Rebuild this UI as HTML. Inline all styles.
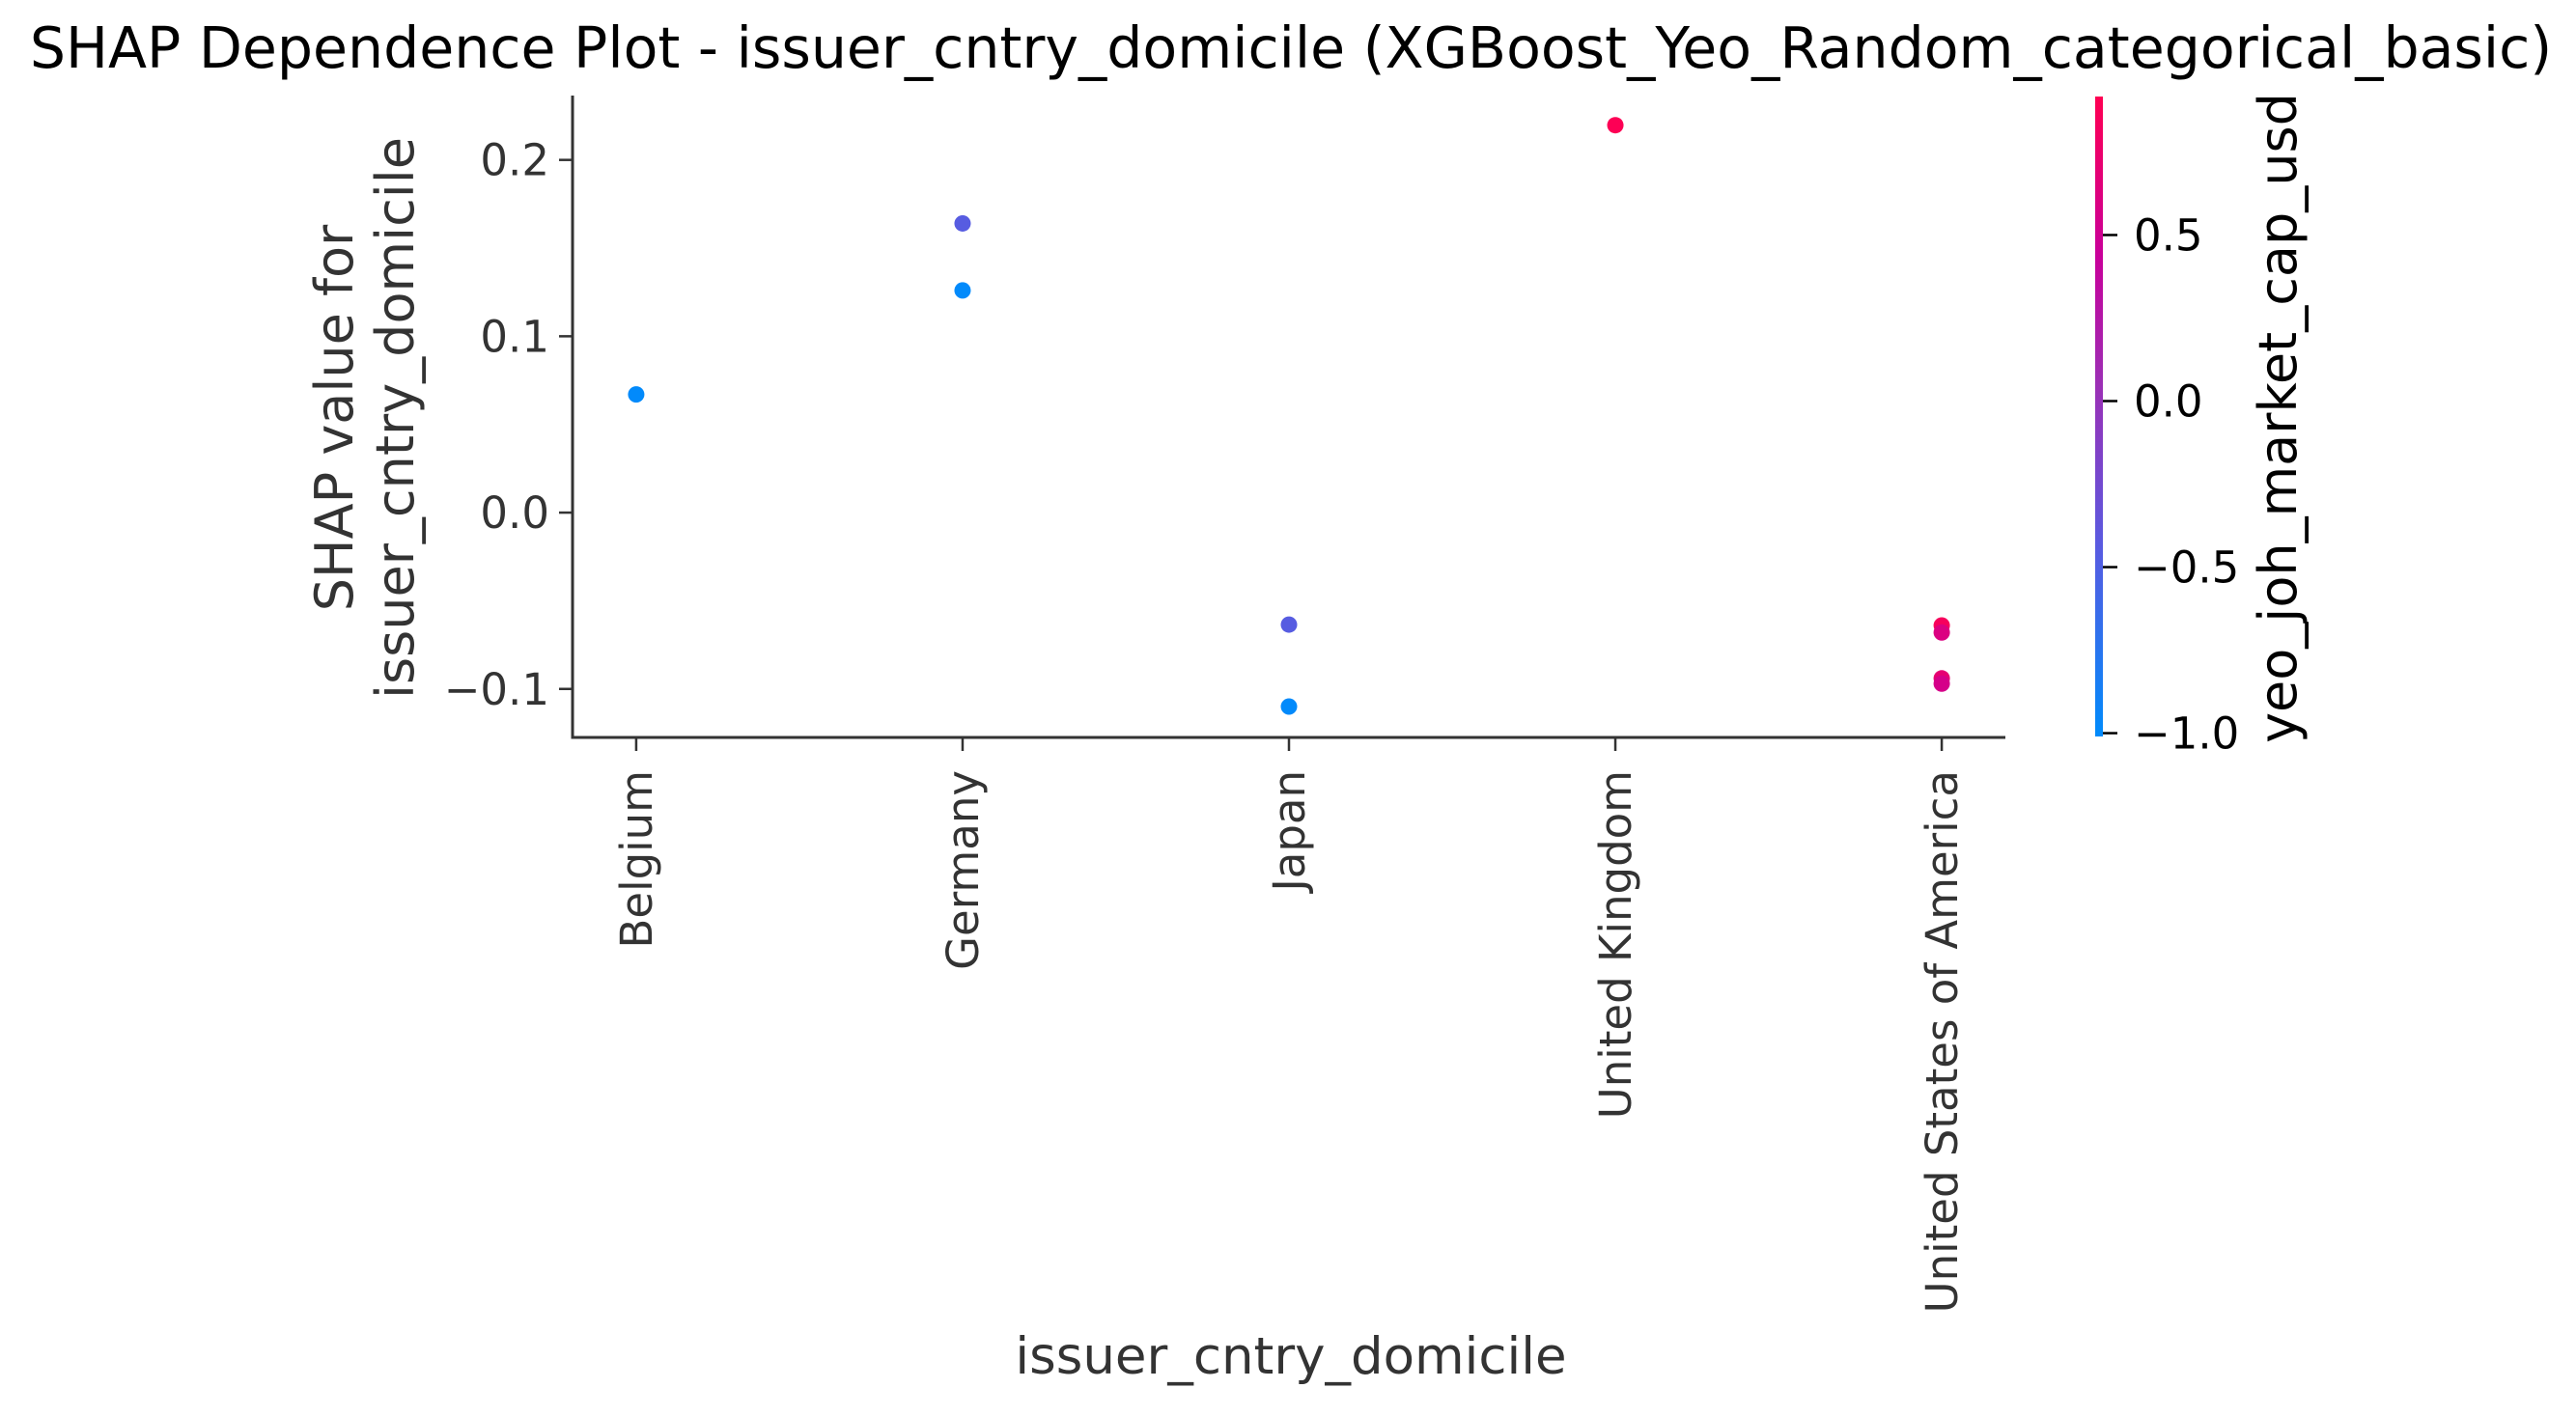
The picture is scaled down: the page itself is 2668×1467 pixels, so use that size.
<!DOCTYPE html>
<html><head><meta charset="utf-8"><style>
html,body{margin:0;padding:0;background:#fff;}
svg{display:block;font-family:"DejaVu Sans","Liberation Sans",sans-serif;}
</style></head><body>
<svg id="chart" width="2668" height="1467" viewBox="0 0 2668 1467">
<defs>
<linearGradient id="cmap" x1="0" y1="1" x2="0" y2="0">
<stop offset="0" stop-color="#008bfb"/>
<stop offset="0.3" stop-color="#5a5ae0"/>
<stop offset="0.55" stop-color="#9c2fb5"/>
<stop offset="0.75" stop-color="#c8009a"/>
<stop offset="1" stop-color="#ff0052"/>
</linearGradient>
</defs>
<text x="1337" y="70" font-size="58.5" text-anchor="middle" fill="#000">SHAP Dependence Plot - issuer_cntry_domicile (XGBoost_Yeo_Random_categorical_basic)</text>
<g id="axes"></g>
<g id="points"></g>
<g fill="#333" font-size="54">
<text transform="translate(365,433) rotate(-90)" text-anchor="middle">SHAP value for</text>
<text transform="translate(428,433) rotate(-90)" text-anchor="middle">issuer_cntry_domicile</text>
</g>
<text x="1337" y="1423" font-size="53" text-anchor="middle" fill="#333">issuer_cntry_domicile</text>
<rect x="2170" y="100" width="8" height="663" fill="url(#cmap)"/>
<g id="cbticks"></g>
<text transform="translate(2378,433) rotate(-90)" font-size="54" text-anchor="middle" fill="#000">yeo_joh_market_cap_usd</text>
</svg>
<script>
const categories = ["Belgium","Germany","Japan","United Kingdom","United States of America"];
const pointCat = [0,1,1,2,2,3,4,4,4,4];
const shapValues = [0.067,0.164,0.126,-0.0635,-0.110,0.2197,-0.064,-0.068,-0.094,-0.097];
const colorValues = [-1.0,-0.45,-1.0,-0.45,-1.0,0.9,0.85,0.6,0.7,0.55];
const yTicks = [-0.1,0.0,0.1,0.2];
const yTickLabels = ["\u22120.1","0.0","0.1","0.2"];
const cbTicks = [-1.0,-0.5,0.0,0.5];
const cbTickLabels = ["\u22121.0","\u22120.5","0.0","0.5"];

const NS = "http://www.w3.org/2000/svg";
const X0 = 593, X1 = 2077, Y0 = 99, Y1 = 764;
const xMin = -0.195, xMax = 4.195, yMin = -0.1275, yMax = 0.2365;
const xs = c => X0 + (c - xMin) / (xMax - xMin) * (X1 - X0);
const ys = v => Y1 - (v - yMin) / (yMax - yMin) * (Y1 - Y0);
const cbMin = -1.01, cbMax = 0.917, CB0 = 100, CB1 = 763;
const cbs = v => CB1 - (v - cbMin) / (cbMax - cbMin) * (CB1 - CB0);
function mk(tag, attrs, parent){const e=document.createElementNS(NS,tag);for(const k in attrs)e.setAttribute(k,attrs[k]);parent.appendChild(e);return e;}
const stops=[[0,[0,139,251]],[0.3,[90,90,224]],[0.55,[156,47,181]],[0.75,[200,0,154]],[1,[255,0,82]]];
function cmap(v){let t=(v-cbMin)/(cbMax-cbMin);t=Math.max(0,Math.min(1,t));
 for(let i=1;i<stops.length;i++){if(t<=stops[i][0]){const a=stops[i-1],b=stops[i];const f=(t-a[0])/(b[0]-a[0]);
 return "rgb("+a[1].map((c,j)=>Math.round(c+(b[1][j]-c)*f)).join(",")+")";}}return "rgb(255,0,82)";}

const ax = document.getElementById("axes");
const ls = mk("line",{x1:X0,y1:Y0,x2:X0,y2:Y1+1.5,stroke:"#333","stroke-width":3},ax);


const bs = mk("line",{x1:X0-1.5,y1:Y1,x2:X1,y2:Y1,stroke:"#333","stroke-width":3},ax);


yTicks.forEach((v,i)=>{
 const y=ys(v);
 const t=mk("line",{x1:X0-14,y1:y,x2:X0,y2:y,stroke:"#333","stroke-width":2.5},ax);
 
 
 const l=mk("text",{x:X0-24,y:y+16,"font-size":45,"text-anchor":"end",fill:"#333"},ax);
 l.textContent=yTickLabels[i];
 
 
});
categories.forEach((c,i)=>{
 const x=xs(i);
 const t=mk("line",{x1:x,y1:Y1,x2:x,y2:Y1+14,stroke:"#333","stroke-width":2.5},ax);
 
 
 const l=mk("text",{transform:"translate("+(x+16)+",798) rotate(-90)","font-size":45,"text-anchor":"end",fill:"#333"},ax);
 l.textContent=c;
 
 
});
const pg=document.getElementById("points");
shapValues.forEach((v,i)=>{
 const e=mk("ellipse",{cx:xs(pointCat[i]),cy:ys(v),rx:8.5,ry:8.5,fill:cmap(colorValues[i])},pg);
 
 
});
const cg=document.getElementById("cbticks");
cbTicks.forEach((v,i)=>{
 const y=cbs(v);
 const t=mk("line",{x1:2178,y1:y,x2:2193,y2:y,stroke:"#000","stroke-width":2.5},cg);
 
 
 const l=mk("text",{x:2210,y:y+16,"font-size":45,fill:"#000"},cg);
 l.textContent=cbTickLabels[i];
 
 
});
</script>
</body></html>
